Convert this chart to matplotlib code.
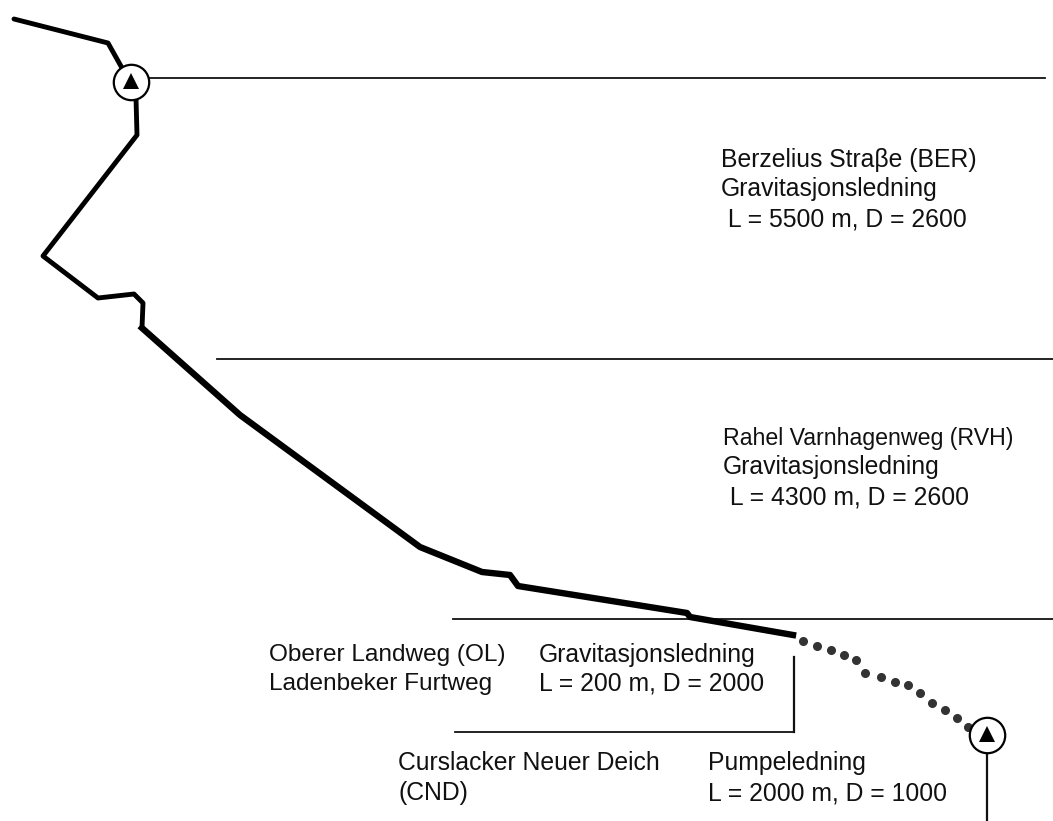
import matplotlib
matplotlib.use('Agg')
import matplotlib.pyplot as plt

plt.rcParams['font.family'] = ['Liberation Sans', 'DejaVu Sans']

# pipe route, pixel coordinates
top_x = [14, 108, 122]
top_y = [19, 43, 68]
mid_x = [136, 137, 43, 98, 134, 143, 142]
mid_y = [98, 135, 256, 298, 294, 303, 328]
low_x = [142, 240, 420, 482, 510, 518, 687, 690, 793]
low_y = [328, 415, 547, 572, 575, 586, 613, 617, 635]
dots_x = [803, 817, 831, 844, 856, 865, 881, 895, 908, 920, 932, 945, 957, 968]
dots_y = [641, 646, 650, 655, 660, 673, 677, 682, 685, 693, 703, 710, 718, 727]

hlines_y = [78, 359, 619, 732]
hlines_x0 = [148, 217, 453, 455]
hlines_x1 = [1045, 1053, 1053, 794]

stations_x = [131, 987]
stations_y = [82, 735]

label_text = [
    'Berzelius Straβe (BER)', 'Gravitasjonsledning', ' L = 5500 m, D = 2600',
    'Rahel Varnhagenweg (RVH)', 'Gravitasjonsledning', ' L = 4300 m, D = 2600',
    'Oberer Landweg (OL)', 'Gravitasjonsledning', 'Ladenbeker Furtweg', 'L = 200 m, D = 2000',
    'Curslacker Neuer Deich', 'Pumpeledning', '(CND)', 'L = 2000 m, D = 1000',
]
label_x = [721, 721, 721, 723, 723, 723, 269, 539, 269, 539, 398, 708, 398, 708]
label_y = [160, 189, 219, 438, 467, 497, 655, 655, 684, 684, 763, 763, 793, 793]
label_size = [17.8, 17.8, 17.8, 16.7, 17.8, 17.8, 17.6, 17.8, 17.6, 17.8, 17.8, 17.8, 17.8, 17.8]

fig = plt.figure(figsize=(10.53, 8.21), dpi=100)
ax = fig.add_axes([0, 0, 1, 1])
ax.set_xlim(0, 1053)
ax.set_ylim(821, 0)
ax.axis('off')

for y, x0, x1 in zip(hlines_y, hlines_x0, hlines_x1):
    ax.plot([x0, x1], [y, y], color='#111111', lw=1.3)
ax.plot([794, 794], [657, 732], color='#111111', lw=1.6)
ax.plot([987, 987], [752, 821], color='#111111', lw=1.6)

ax.plot(top_x, top_y, color='black', lw=3.5, solid_joinstyle='round', solid_capstyle='round')
ax.plot(mid_x, mid_y, color='black', lw=3.5, solid_joinstyle='round', solid_capstyle='round')
ax.plot(low_x, low_y, color='black', lw=4.6, solid_joinstyle='round')
ax.plot(dots_x, dots_y, 'o', color='#333333', ms=5.5, ls='none')

for x, y in zip(stations_x, stations_y):
    ax.plot(x, y, 'o', ms=25.5, mfc='white', mec='black', mew=1.6)
    ax.plot(x, y - 1, '^', ms=11, color='black', mew=0)

for x, y, s, size in zip(label_x, label_y, label_text, label_size):
    ax.text(x, y, s, fontsize=size, color='#111111', va='center', ha='left')

fig.savefig('out.png', dpi=100)
